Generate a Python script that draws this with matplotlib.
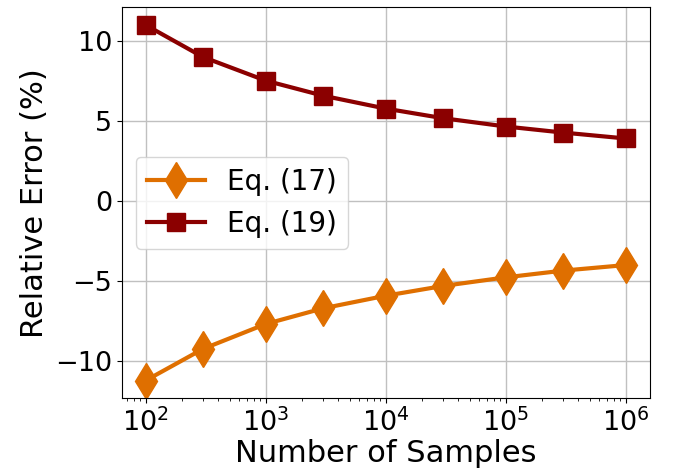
import matplotlib
matplotlib.use("Agg")
import matplotlib.pyplot as plt

samples = [1e2, 3e2, 1e3, 3e3, 1e4, 3e4, 1e5, 3e5, 1e6]
eq17 = [-11.23, -9.25, -7.69, -6.71, -5.92, -5.31, -4.77, -4.35, -4.0]
eq19 = [11.02, 9.02, 7.54, 6.6, 5.79, 5.19, 4.67, 4.29, 3.92]
labels = ["Eq. (17)", "Eq. (19)"]

W, H = 678, 473
fig = plt.figure(figsize=(W / 100, H / 100), dpi=100)
ax = fig.add_axes([121.7 / W, 1 - 398.3 / H, (650 - 121.7) / W, (398.3 - 7.3) / H])
ax.plot(samples, eq17, color="#df6f00", lw=3, marker="d", markersize=18, label=labels[0])
ax.plot(samples, eq19, color="#8b0000", lw=3, marker="s", markersize=12.5, label=labels[1])
ax.set_xscale("log")
ax.grid(True, color="#c0c0c0", lw=1)
ax.set_axisbelow(True)
ax.tick_params(labelsize=19.5)
ax.set_xlabel("Number of Samples", fontsize=22, labelpad=2)
ax.set_ylabel("Relative Error (%)", fontsize=22)
ax.legend(loc="center left", fontsize=20, handlelength=2.1)
fig.savefig("out.png", dpi=100)
